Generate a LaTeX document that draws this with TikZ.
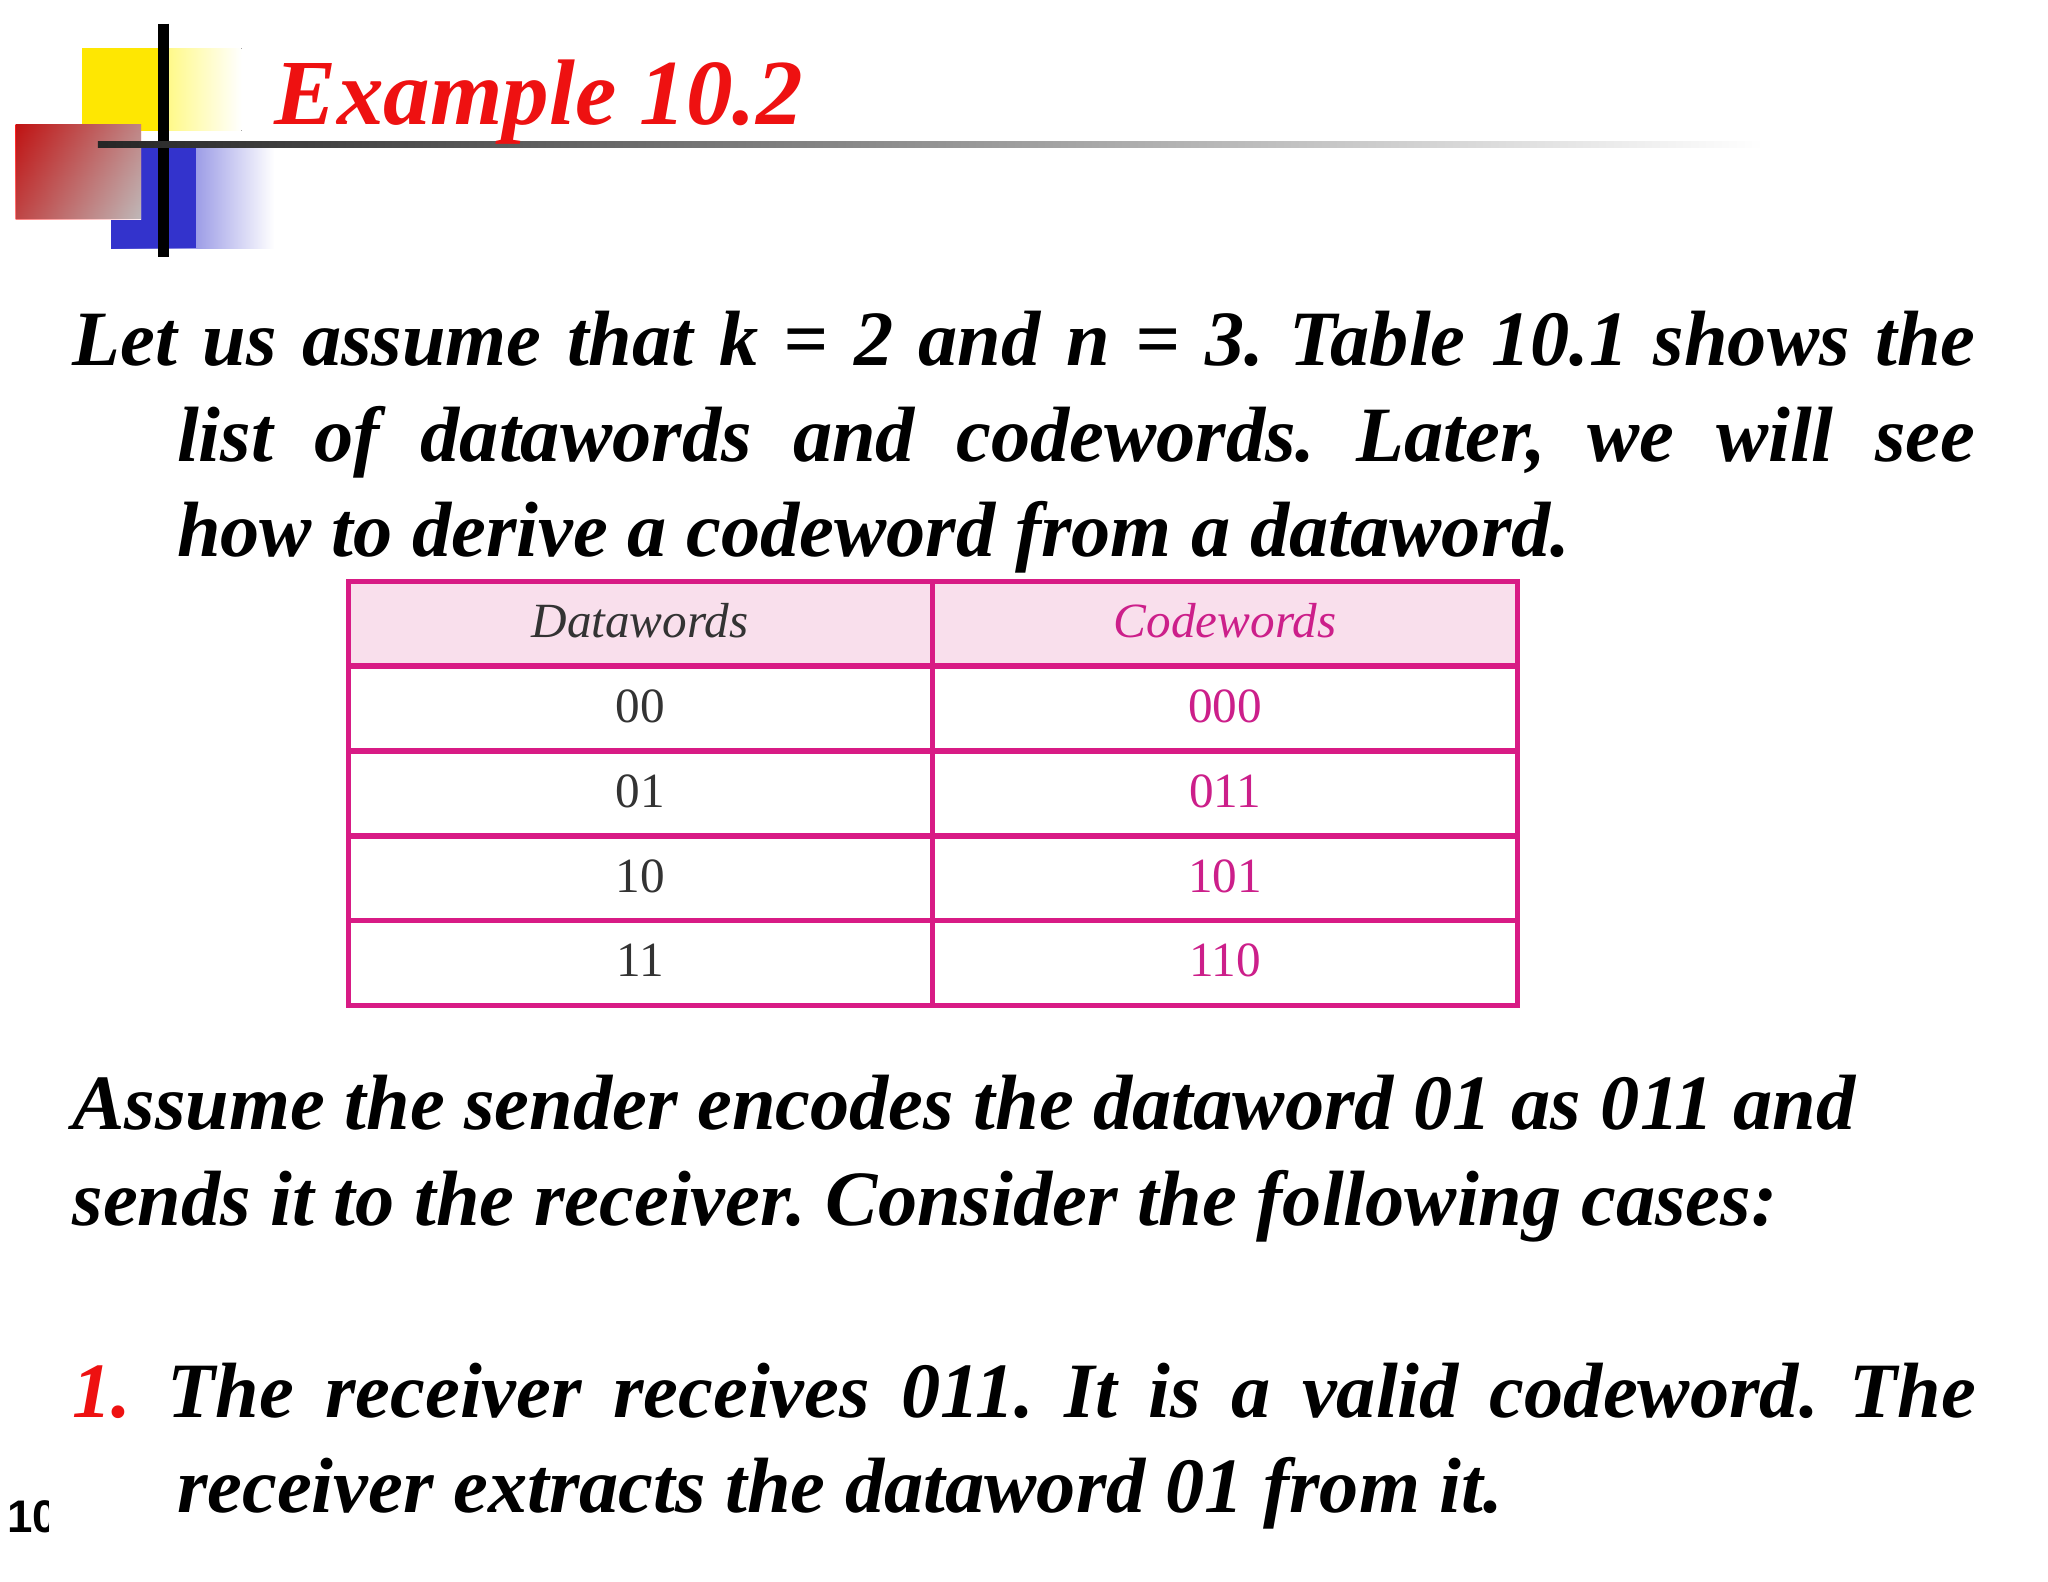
\documentclass[tikz,border=0pt]{standalone}
\usepackage{fontspec}
\setmainfont{Liberation Serif}
\newfontfamily\sansb{Liberation Sans}
\definecolor{pinkline}{HTML}{D81B85}
\definecolor{pinkfill}{HTML}{F9DFEC}
\definecolor{cwtext}{HTML}{CC1F8A}
\definecolor{titlered}{HTML}{EE1111}
\frenchspacing
\begin{document}
\begin{tikzpicture}[x=0.01306cm,y=-0.01306cm,
  body/.style={anchor=base west,inner sep=0pt,font=\fontsize{22.3}{27}\selectfont\bfseries\itshape},
  cell/.style={anchor=base,inner sep=0pt,font=\fontsize{14}{17}\selectfont}]
\useasboundingbox (0,0) rectangle (1568,1211);
\fill[white] (0,0) rectangle (1568,1211);
% logo
\fill[left color=yellow!90!orange,right color=white] (63,37) rectangle (185,100);
\fill[yellow!90!orange] (63,37) rectangle (125,100);
\fill[left color=blue!75!black!80,right color=white] (85,110) rectangle (210,190);
\fill[blue!75!black!80] (85,110) rectangle (150,190);
\fill[top color=red!90,bottom color=red!10] (12,95) rectangle (108,168);
\fill[left color=red!90,right color=white,opacity=0.5] (12,95) rectangle (108,168);
\draw[line width=3pt] (125,18) -- (125,197);
\fill[left color=black!85,right color=white] (75,108) rectangle (1350,113);
\node[anchor=base west,inner sep=0pt,text=titlered,font=\fontsize{26.5}{32}\selectfont\bfseries\itshape] (title) at (210,95) {Example 10.2};
% paragraph 1
\node[body] (p1) at (55,280) {\makebox[19.03cm][s]{Let us assume that k = 2 and n = 3. Table 10.1 shows the}};
\node[body] (p2) at (135,353) {\makebox[17.98cm][s]{list of datawords and codewords. Later, we will see}};
\node[body] (p3) at (135,426) {how to derive a codeword from a dataword.};
% table
\fill[pinkfill] (267,445) rectangle (1162,510);
\draw[pinkline,line width=1.5pt] (267,445) rectangle (1162,770);
\foreach \y in {510,575,640,705} \draw[pinkline,line width=1.5pt] (267,\y) -- (1162,\y);
\draw[pinkline,line width=1.5pt] (714,445) -- (714,770);
\node[cell,text=black!80] (h1) at (490,488) {\textit{Datawords}};
\node[cell,text=cwtext] (h2) at (938,488) {\textit{Codewords}};
\node[cell,text=black!80] (d1) at (490,553) {00};
\node[cell,text=cwtext] (c1) at (938,553) {000};
\node[cell,text=black!80] (d2) at (490,618) {01};
\node[cell,text=cwtext] (c2) at (938,618) {011};
\node[cell,text=black!80] (d3) at (490,683) {10};
\node[cell,text=cwtext] (c3) at (938,683) {101};
\node[cell,text=black!80] (d4) at (490,748) {11};
\node[cell,text=cwtext] (c4) at (938,748) {110};
% paragraph 2
\node[body] (q1) at (55,865) {Assume the sender encodes the dataword 01 as 011 and};
\node[body] (q2) at (55,938) {sends it to the receiver. Consider the following cases:};
% item 1
\node[body,text=titlered] (n1) at (55,1085) {1.};
\node[body] (i1) at (128,1085) {\makebox[18.08cm][s]{The receiver receives 011. It is a valid codeword. The}};
\node[body] (i2) at (135,1158) {receiver extracts the dataword 01 from it.};
\begin{scope}
\clip (0,1130) rectangle (37,1190);
\node[anchor=base west,inner sep=0pt,font=\fontsize{13}{15}\selectfont\sansb\bfseries] (pg) at (5,1173) {10};
\end{scope}
\end{tikzpicture}
\end{document}
